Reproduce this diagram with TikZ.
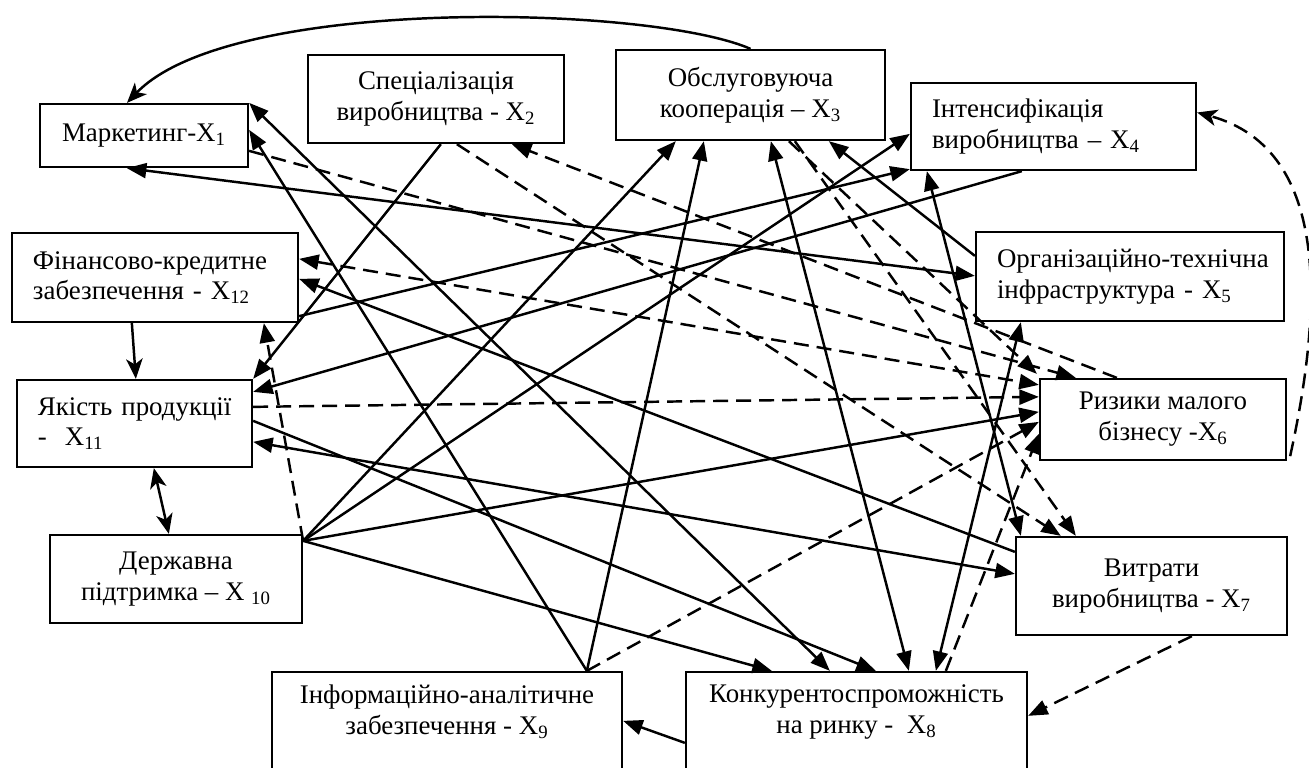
\documentclass[tikz,border=0pt]{standalone}
\usepackage{fontspec}
\setmainfont{Liberation Serif}
\usetikzlibrary{arrows.meta,calc}

\begin{document}
\begin{tikzpicture}[x=0.2mm,y=-0.2mm,line width=1.4pt,>={Triangle[length=3.9mm,width=3mm]}]
\tikzset{every node/.style={font=\fontsize{15.3}{17.6}\selectfont}}
\tikzstyle{box}=[draw, rectangle, line width=1.3pt, inner sep=0pt, align=center]
\tikzstyle{lbox}=[box, align=left, inner xsep=4.2mm]
\tikzstyle{txt}=[align=center, inner sep=0pt]
\tikzstyle{dsh}=[dash pattern=on 3mm off 1.6mm]
\tikzstyle{crv}=[>={Stealth[length=4mm,width=3.3mm,inset=1.1mm]}]
\useasboundingbox (0,0) rectangle (1309,767);
\clip (0,0) rectangle (1309,767);
% factors
\node[box, minimum width=41.6mm, minimum height=12.6mm] (X1) at (144,135.5) {Маркетинг-X\textsubscript{1}};
\node[box, minimum width=51.2mm, minimum height=17.6mm] (X2) at (436,99) {Спеціалізація\\виробництва - X\textsubscript{2}};
\node[box, minimum width=53.8mm, minimum height=18mm] (X3) at (750.5,95) {Обслуговуюча\\кооперація – X\textsubscript{3}};
\node[lbox, text width=48.6mm, minimum height=17.4mm] (X4) at (1053.5,126.5) {Інтенсифікація\\виробництва – X\textsubscript{4}};
\node[lbox, text width=53.2mm, minimum height=17.8mm] (X5) at (1130,276.5) {\mbox{Організаційно-технічна}\\інфраструктура - X\textsubscript{5}};
\node[box, minimum width=49.2mm, minimum height=16.2mm] (X6) at (1163,419.5) {Ризики малого\\бізнесу -X\textsubscript{6}};
\node[box, minimum width=54.2mm, minimum height=19.6mm] (X7) at (1151.5,586) {Витрати\\виробництва - X\textsubscript{7}};
\node[box, minimum width=68.2mm, minimum height=25.6mm] (X8) at (856.5,736) {};
\node[txt] (t8) at (856.5,712) {Конкурентоспроможність\\на ринку -\ \ X\textsubscript{8}};
\node[box, minimum width=70mm, minimum height=25.6mm] (X9) at (447,736) {};
\node[txt] (t9) at (447,712) {Інформаційно-аналітичне\\забезпечення - X\textsubscript{9}};
\node[box, minimum width=50.4mm, minimum height=17.6mm] (X10) at (176,579) {Державна\\підтримка – X \textsubscript{10}};
\node[lbox, text width=38.6mm, minimum height=17.4mm] (X11) at (134.5,423.5) {Якість~продукції\\-\ \ X\textsubscript{11}};
\node[lbox, text width=48.8mm, minimum height=17.8mm] (X12) at (155,277.5) {\mbox{Фінансово-кредитне}\\забезпечення - X\textsubscript{12}};
\coordinate (c10) at ($(X10.north east)+(0,7)$);
\coordinate (c9) at ($(X9.north west)+(316,0)$);
% links
\draw[crv,->] (X3.north) .. controls (650,5) and (230,-5) .. ($(X1.north)+(-17,0)$);
\draw[crv,->,dsh] ($(X6.south east)+(3,-5)$) .. controls (1320,320) and (1335,150) .. ($(X4.east)+(0,-14)$);
\draw[crv,->] ($(X12.south west)+(121,0)$) -- ($(X11.north west)+(120,0)$);
\draw[crv,<->] ($(X10.north west)+(120,0)$) -- ($(X11.south west)+(138,0)$);
\draw[->] ($(X8.north west)+(0,72)$) -- ($(X9.north east)+(0,50)$);
\draw[->,dsh] ($(X7.south west)+(177,0)$) -- ($(X8.north east)+(0,45)$);
\draw[->] (c10) -- ($(X3.south west)+(61,0)$);
\draw[->] (c10) -- ($(X4.north west)+(0,52)$);
\draw[->] (c10) -- ($(X6.north west)+(0,34)$);
\draw[->] (c10) -- ($(X8.north west)+(87,0)$);
\draw[->,dsh] (c10) -- ($(X12.south west)+(253,0)$);
\draw[->] (c9) -- ($(X1.north east)+(0,27)$);
\draw[->] (c9) -- ($(X3.south west)+(89,0)$);
\draw[->,dsh] (c9) -- ($(X6.north west)+(0,44)$);
\draw[<->] (X1.north east) -- ($(X8.north west)+(145,0)$);
\draw[<->] ($(X3.south west)+(156,0)$) -- ($(X8.north west)+(224,0)$);
\draw[<->] ($(X5.south west)+(46,0)$) -- ($(X8.north west)+(251,0)$);
\draw[->] ($(X11.north east)+(0,42)$) -- ($(X8.north west)+(191,0)$);
\draw[->,dsh] ($(X8.north west)+(261,0)$) -- ($(X6.north west)+(0,56)$);
\draw[<->] ($(X4.south west)+(17,0)$) -- ($(X7.north west)+(6,0)$);
\draw[->] ($(X4.south west)+(112,0)$) -- ($(X11.north east)+(0,13)$);
\draw[->] ($(X12.south east)+(0,-7)$) -- ($(X4.south west)+(0,-2)$);
\draw[->] ($(X7.north west)+(0,16)$) -- ($(X12.north east)+(0,47)$);
\draw[<->,dsh] ($(X12.north east)+(0,27)$) -- ($(X6.north west)+(0,7)$);
\draw[->,dsh] ($(X11.north east)+(0,28)$) -- ($(X6.north west)+(0,19)$);
\draw[<->] ($(X11.north east)+(0,63)$) -- ($(X7.north west)+(0,38)$);
\draw[->] ($(X2.south west)+(134,0)$) -- (X11.north east);
\draw[->,dsh] ($(X2.south west)+(150,0)$) -- ($(X7.north west)+(46,0)$);
\draw[->,dsh] ($(X6.north west)+(78,0)$) -- ($(X2.south west)+(205,0)$);
\draw[->,dsh] ($(X1.north east)+(0,48)$) -- ($(X6.north west)+(37,0)$);
\draw[<->] ($(X1.south west)+(88,0)$) -- ($(X5.north west)+(0,45)$);
\draw[->] ($(X5.north west)+(0,25)$) -- ($(X3.south west)+(214,0)$);
\draw[->,dsh] ($(X3.south west)+(174,0)$) -- ($(X6.north west)+(-2,-4)$);
\draw[->,dsh] ($(X3.south west)+(180,0)$) -- ($(X7.north west)+(61,0)$);
\end{tikzpicture}
\end{document}
